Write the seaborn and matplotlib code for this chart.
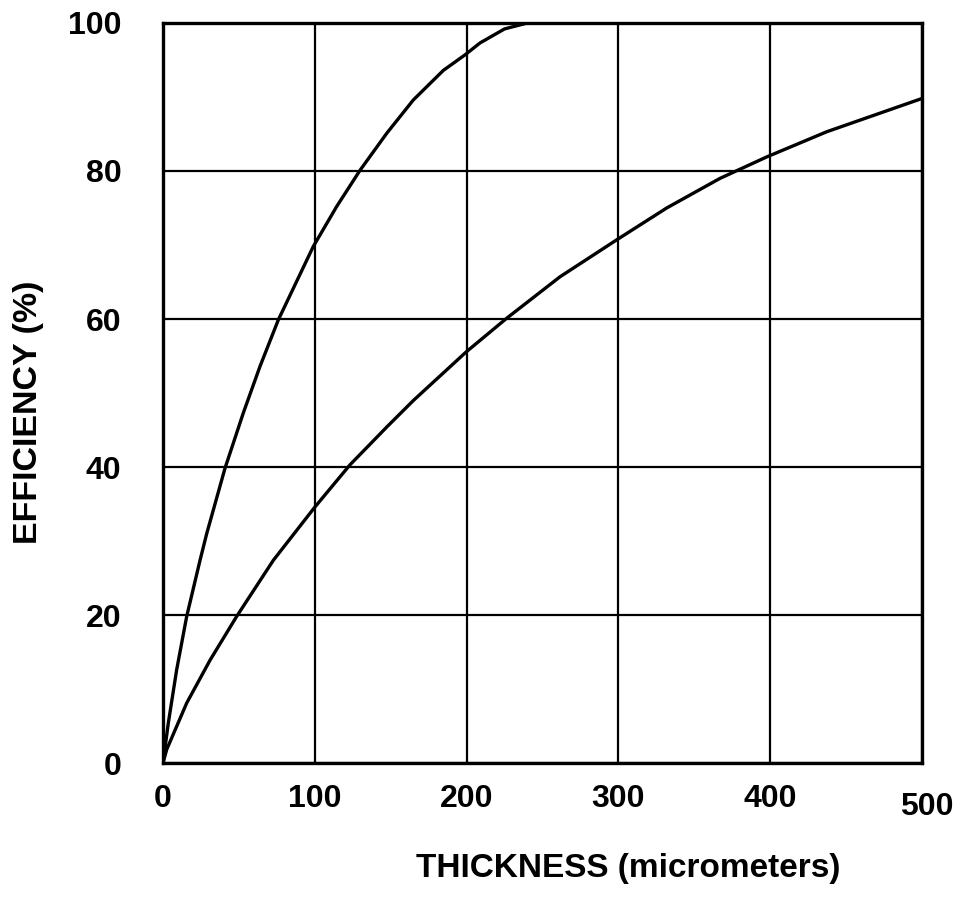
import matplotlib
matplotlib.use("Agg")
import matplotlib.pyplot as plt
import matplotlib.transforms as mtransforms
import seaborn as sns
import pandas as pd

# Upper curve
upper_thickness = [0, 3.5, 9, 15.6, 24.4, 28.8, 40.8, 52.9, 63.9, 76, 99, 114.4, 129.8, 147.4,
                   164.9, 184.7, 199, 208.8, 225, 240]
upper_efficiency = [0, 5.4, 12.6, 19.8, 27.4, 31, 39.8, 47.3, 53.6, 59.9, 69.8, 75.2, 80.1, 85.1,
                    89.6, 93.6, 95.7, 97.3, 99.2, 100]

# Lower curve
lower_thickness = [0, 2.4, 15.6, 31, 48.5, 72.7, 100.1, 123.2, 147.4, 165, 200, 226.4, 261.5,
                   298.9, 331.8, 366.9, 397.7, 437.2, 500]
lower_efficiency = [0, 1.8, 8.1, 13.9, 19.8, 27.4, 34.6, 40.3, 45.4, 49, 55.6, 60.1, 65.7,
                    70.7, 75.0, 79, 81.9, 85.3, 89.8]

x_ticks = [0, 100, 200, 300, 400, 500]
y_ticks = [0, 20, 40, 60, 80, 100]
x_label = "THICKNESS (micrometers)"
y_label = "EFFICIENCY (%)"

df = pd.concat([
    pd.DataFrame({"t": upper_thickness, "e": upper_efficiency, "curve": "upper"}),
    pd.DataFrame({"t": lower_thickness, "e": lower_efficiency, "curve": "lower"}),
])

sns.set_theme(style="white")
plt.rcParams["font.family"] = ["Liberation Sans", "DejaVu Sans"]
plt.rcParams["text.color"] = "black"
plt.rcParams["xtick.color"] = "black"
plt.rcParams["ytick.color"] = "black"

fig = plt.figure(figsize=(9.62, 9.05), dpi=100)
ax = fig.add_axes([163 / 962, 1 - 763 / 905, (922 - 163) / 962, (763 - 23) / 905])

sns.lineplot(data=df, x="t", y="e", hue="curve", palette={"upper": "black", "lower": "black"},
             linewidth=2.4, legend=False, ax=ax, sort=False, estimator=None, zorder=3)
for ln in ax.lines:
    ln.set_solid_joinstyle("round")
    ln.set_solid_capstyle("round")

ax.set_xlim(0, 500)
ax.set_ylim(0, 100)
ax.set_xticks(x_ticks)
ax.set_yticks(y_ticks)
ax.set_xticklabels([str(v) for v in x_ticks], fontsize=23, fontweight="bold", color="black")
ax.set_yticklabels([str(v) for v in y_ticks], fontsize=23, fontweight="bold", color="black")
ax.tick_params(axis="x", length=0, pad=15)
ax.tick_params(axis="y", length=0, pad=30)
ax.grid(True, color="black", linewidth=1.6)
for s in ax.spines.values():
    s.set_color("black")
    s.set_linewidth(2.4)

# last x tick label sits slightly lower and to the right in the reference
lbl = ax.get_xticklabels()[-1]
lbl.set_transform(lbl.get_transform() + mtransforms.ScaledTranslation(0.05, -0.08, fig.dpi_scale_trans))

ax.set_xlabel("")
ax.set_ylabel("")
fig.text(628 / 962, 1 - 868 / 905, x_label, ha="center", va="center", fontsize=24,
         fontweight="bold", color="black")
fig.text(29 / 962, 1 - 412 / 905, y_label, ha="center", va="center", rotation=90, fontsize=24.5,
         fontweight="bold", color="black")

fig.savefig("out.png", dpi=100, facecolor="white")
